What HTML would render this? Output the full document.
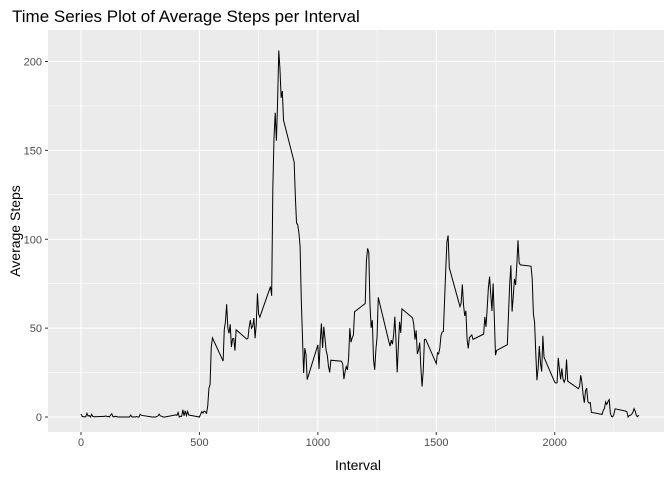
<!DOCTYPE html>
<html><head><meta charset="utf-8"><style>
body{margin:0;background:#fff}
svg text{font-family:"Liberation Sans",sans-serif}
</style></head><body>
<svg id="chart" width="672" height="480">
<text x="12" y="22" font-size="17" fill="#000">Time Series Plot of Average Steps per Interval</text>
<rect x="48" y="30" width="616" height="402" fill="#ebebeb"/>
<g id="grid"></g>
<g id="axes"></g>
<path id="line" fill="none" stroke="#000" stroke-width="1"/>
<text x="358" y="470" font-size="14" text-anchor="middle">Interval</text>
<text transform="translate(20,231) rotate(-90)" font-size="14" text-anchor="middle">Average Steps</text>
</svg>
<script>
const intervals=[0,5,10,15,20,25,30,35,40,45,50,55,100,105,110,115,120,125,130,135,140,145,150,155,200,205,210,215,220,225,230,235,240,245,250,255,300,305,310,315,320,325,330,335,340,345,350,355,400,405,410,415,420,425,430,435,440,445,450,455,500,505,510,515,520,525,530,535,540,545,550,555,600,605,610,615,620,625,630,635,640,645,650,655,700,705,710,715,720,725,730,735,740,745,750,755,800,805,810,815,820,825,830,835,840,845,850,855,900,905,910,915,920,925,930,935,940,945,950,955,1000,1005,1010,1015,1020,1025,1030,1035,1040,1045,1050,1055,1100,1105,1110,1115,1120,1125,1130,1135,1140,1145,1150,1155,1200,1205,1210,1215,1220,1225,1230,1235,1240,1245,1250,1255,1300,1305,1310,1315,1320,1325,1330,1335,1340,1345,1350,1355,1400,1405,1410,1415,1420,1425,1430,1435,1440,1445,1450,1455,1500,1505,1510,1515,1520,1525,1530,1535,1540,1545,1550,1555,1600,1605,1610,1615,1620,1625,1630,1635,1640,1645,1650,1655,1700,1705,1710,1715,1720,1725,1730,1735,1740,1745,1750,1755,1800,1805,1810,1815,1820,1825,1830,1835,1840,1845,1850,1855,1900,1905,1910,1915,1920,1925,1930,1935,1940,1945,1950,1955,2000,2005,2010,2015,2020,2025,2030,2035,2040,2045,2050,2055,2100,2105,2110,2115,2120,2125,2130,2135,2140,2145,2150,2155,2200,2205,2210,2215,2220,2225,2230,2235,2240,2245,2250,2255,2300,2305,2310,2315,2320,2325,2330,2335,2340,2345,2350,2355];
const steps=[1.72,0.34,0.13,0.15,0.08,2.09,0.53,0.87,0,1.47,0.30,0.13,
0.32,0.68,0.15,0.34,0,1.11,1.83,0.17,0.17,0.38,0.26,0,
0,0,1.11,0,0,0.13,0,0.23,0,0,1.55,0.94,
0,0,0,0,0.23,0.62,1.62,0.58,0.49,0.08,0,0,
1.19,0.94,2.57,0,0.34,0.36,4.11,0.66,3.49,0.83,3.11,1.11,
0,1.57,3,2.25,3.32,2.96,2.09,6.06,16.02,18.34,39.45,44.49,
31.49,49.26,53.77,63.45,49.96,47.08,52.15,39.34,44.02,44.17,37.36,49.04,
43.81,44.38,50.51,54.51,49.92,50.98,55.68,44.32,52.26,69.55,57.85,56.15,
73.38,68.21,129.43,157.53,171.15,155.4,177.3,206.17,195.92,179.57,183.4,167.02,
143.45,124.04,109.11,108.11,103.72,95.96,66.21,45.23,24.79,38.75,34.98,21.06,
40.57,26.98,42.42,52.66,38.92,50.79,44.28,37.42,34.7,28.34,25.09,31.94,
31.36,29.68,21.32,25.55,28.38,26.47,33.43,49.98,42.04,44.6,46.04,59.19,
63.87,87.7,94.85,92.77,63.4,50.17,54.47,32.42,26.53,37.74,45.06,67.28,
42.34,39.89,43.26,40.98,46.25,56.43,42.75,25.13,39.96,53.55,47.32,60.81,
55.75,51.96,43.58,48.7,35.47,37.55,41.85,27.51,17.11,26.08,43.62,43.77,
30.02,36.08,35.49,38.85,45.96,47.75,48.13,65.32,82.91,98.66,102.11,83.96,
62.13,64.13,74.55,63.17,56.91,59.77,43.87,38.57,44.66,45.45,46.21,43.68,
46.62,56.3,50.72,61.23,72.72,78.94,68.94,59.66,75.09,56.51,34.77,37.45,
40.68,58.02,74.7,85.32,59.26,67.77,77.7,74.25,85.34,99.45,86.58,85.6,
84.87,77.83,58.04,53.36,36.32,20.72,27.4,40.02,30.21,25.55,45.66,33.53,
19.62,19.02,19.34,33.34,26.81,21.17,27.3,21.34,19.55,21.32,32.3,20.15,
15.94,17.23,23.45,19.25,12.45,8.02,14.66,16.3,8.68,7.79,8.13,2.62,
1.45,3.68,4.81,8.51,7.08,8.7,9.75,2.21,0.32,0.11,1.6,4.6,
3.3,2.85,0,0.83,0.96,1.58,2.6,4.7,3.3,0.64,0.23,1.08];
const xTicks=[0,500,1000,1500,2000];
const yTicks=[0,50,100,150,200];
const xs=v=>81+v*0.23685;
const ys=v=>417-v*1.7775;
const NS='http://www.w3.org/2000/svg';
const grid=document.getElementById('grid'),axes=document.getElementById('axes');
function ln(p,x1,y1,x2,y2,c,w){const l=document.createElementNS(NS,'line');l.setAttribute('x1',x1);l.setAttribute('y1',y1);l.setAttribute('x2',x2);l.setAttribute('y2',y2);l.setAttribute('stroke',c);l.setAttribute('stroke-width',w);p.appendChild(l);return l;}
function tx(p,x,y,s,a){const t=document.createElementNS(NS,'text');t.setAttribute('x',x);t.setAttribute('y',y);t.setAttribute('font-size','11');t.setAttribute('fill','#4d4d4d');t.setAttribute('text-anchor',a);t.textContent=s;p.appendChild(t);return t;}
for(let i=0;i<xTicks.length;i++){
 const m=xTicks[i]+250;const xm=xs(m);
 if(xm<664){const g=ln(grid,xm,30,xm,432,'#fff',0.5);}
 if(i==0){const g=ln(grid,xs(-250),30,xs(-250),432,'#fff',0.5);}
}
for(let i=0;i<yTicks.length;i++){
 const ym=ys(yTicks[i]+25);
 if(ym>30){const g=ln(grid,48,ym,664,ym,'#fff',0.5);}
}
xTicks.forEach(v=>{const x=xs(v);
 const g=ln(grid,x,30,x,432,'#fff',1.1);
 
 
 const tk=ln(axes,x,432,x,435,'#333',1);
 
 
 const t=tx(axes,x,446,String(v),'middle');
 
 
});
yTicks.forEach(v=>{const y=ys(v);
 const g=ln(grid,48,y,664,y,'#fff',1.1);
 
 
 const tk=ln(axes,45,y,48,y,'#333',1);
 
 
 const t=tx(axes,42,y+4,String(v),'end');
 
 
});
let d='';
for(let i=0;i<intervals.length;i++){d+=(i?'L':'M')+xs(intervals[i]).toFixed(2)+','+ys(steps[i]).toFixed(2);}
document.getElementById('line').setAttribute('d',d);
</script>
</body></html>
